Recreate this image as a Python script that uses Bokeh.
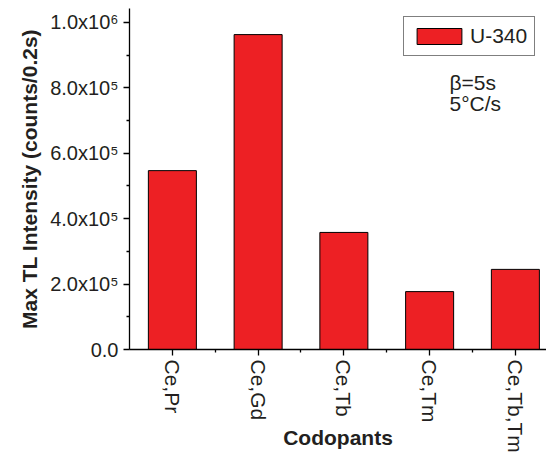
import math
from bokeh.plotting import figure
from bokeh.models import (ColumnDataSource, FixedTicker, Label, Range1d)
from bokeh.embed import file_html
from bokeh.resources import INLINE

# ---- data ----
categories = ["Ce,Pr", "Ce,Gd", "Ce,Tb", "Ce,Tm", "Ce,Tb,Tm"]
intensity = [5.47e5, 9.63e5, 3.58e5, 1.77e5, 2.45e5]
series_name = "U-340"
y_ticks = [0, 2e5, 4e5, 6e5, 8e5, 1e6]
y_tick_labels = ["0.0", "2.0x10\u2075", "4.0x10\u2075", "6.0x10\u2075", "8.0x10\u2075", "1.0x10\u2076"]
annotations = ["\u03b2=5s", "5\u00b0C/s"]

FONT = "Liberation Sans"
TXT = "#231f20"
RED = "#ed2024"

xpos = [i + 1 for i in range(len(categories))]
src = ColumnDataSource(dict(x=xpos, top=intensity, cat=categories))

p = figure(width=546, height=456, output_backend="svg", toolbar_location=None,
           x_range=Range1d(0.5, 5.363), y_range=Range1d(0, 1.0428e6),
           min_border_left=129, min_border_right=0, min_border_top=8,
           min_border_bottom=107)
p.outline_line_color = None
p.xgrid.visible = False
p.ygrid.visible = False
p.background_fill_color = "white"
p.border_fill_color = "white"

p.vbar(x="x", top="top", width=0.56, source=src, fill_color=RED,
       line_color="black", line_width=1, legend_label=series_name)

for ax in (p.yaxis[0], p.xaxis[0]):
    ax.axis_line_color = "black"
    ax.axis_line_width = 1.3
    ax.major_tick_line_color = "black"
    ax.major_tick_line_width = 1.3
    ax.minor_tick_line_color = "black"
    ax.minor_tick_line_width = 1.3
    ax.major_tick_in = 0
    ax.major_tick_out = 6
    ax.minor_tick_in = 0
    ax.minor_tick_out = 3
    ax.axis_label_text_font = FONT
    ax.axis_label_text_font_style = "bold"
    ax.axis_label_text_font_size = "21px"
    ax.axis_label_text_color = TXT

# y axis
ya = p.yaxis[0]
ya.ticker = FixedTicker(ticks=y_ticks, minor_ticks=[1e5, 3e5, 5e5, 7e5, 9e5])
ya.major_label_overrides = {t: l for t, l in zip(y_ticks, y_tick_labels)}
ya.major_label_text_font = FONT
ya.major_label_text_font_size = "20px"
ya.major_label_text_color = TXT
ya.axis_label = "Max TL Intensity (counts/0.2s)"
ya.axis_label_standoff = 6

# x axis with rotated category labels (reading top to bottom)
xa = p.xaxis[0]
xa.ticker = FixedTicker(ticks=xpos, minor_ticks=[1.5, 2.5, 3.5, 4.5])
xa.major_label_overrides = {x: c for x, c in zip(xpos, categories)}
xa.major_label_orientation = -math.pi / 2
xa.major_label_standoff = 4
xa.major_label_text_font = FONT
xa.major_label_text_font_size = "21px"
xa.major_label_text_color = TXT
xa.axis_label = "Codopants"
xa.axis_label_standoff = -30

p.add_layout(Label(x=320, y=256, x_units="screen", y_units="screen", text=annotations[0],
                   text_font=FONT, text_font_size="21px", text_color=TXT))
p.add_layout(Label(x=320, y=235, x_units="screen", y_units="screen", text=annotations[1],
                   text_font=FONT, text_font_size="21px", text_color=TXT))

lg = p.legend[0]
lg.location = (274, 293)
lg.margin = 0
lg.padding = 7
lg.spacing = 0
lg.glyph_width = 56
lg.glyph_height = 20
lg.label_standoff = 3
lg.label_text_font = FONT
lg.label_text_font_size = "21px"
lg.label_text_color = TXT
lg.border_line_color = "black"
lg.border_line_width = 1
lg.background_fill_alpha = 1

open("out.html", "w").write(file_html(p, INLINE))
